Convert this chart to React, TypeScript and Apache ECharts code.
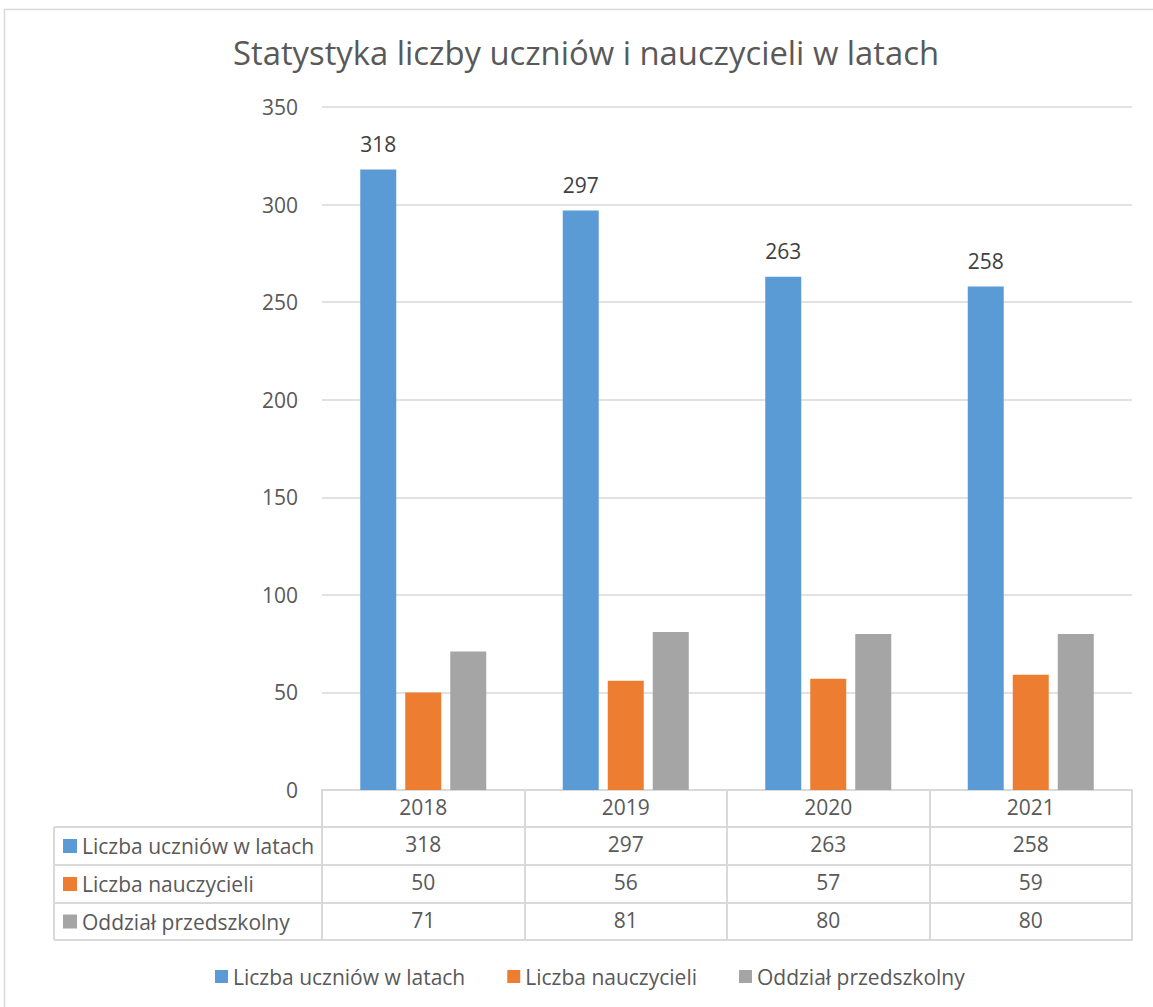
import React, { useEffect, useRef } from "react";
import * as echarts from "echarts";

const years = ["2018", "2019", "2020", "2021"];
const seriesNames = ["Liczba uczniów w latach", "Liczba nauczycieli", "Oddział przedszkolny"];
const uczniowie = [318, 297, 263, 258];
const nauczyciele = [50, 56, 57, 59];
const przedszkole = [71, 81, 80, 80];
const colors = ["#5B9BD5", "#ED7D31", "#A5A5A5"];
const titleText = "Statystyka liczby uczniów i nauczycieli w latach";

const FONT = "'Open Sans', sans-serif";
const TEXT = "#595959";
const LINE = "#d9d9d9";

const GRID_LEFT = 322;
const GRID_RIGHT = 21;
const GRID_TOP = 107;
const AXIS_Y = 790;
const ROW_OFFSETS = [37, 75, 113, 150];
const TABLE_LEFT = 54;

export default function App() {
  const ref = useRef<HTMLDivElement>(null);
  useEffect(() => {
    const el = ref.current!;
    const chart = echarts.init(el, null, { renderer: "svg" });
    const W = 1153;
    const H = 1007;
    const rows = [uczniowie, nauczyciele, przedszkole];

    const baseAxis = {
      type: "category" as const,
      data: years,
      position: "bottom" as const,
      boundaryGap: true,
      axisLine: { show: true, lineStyle: { color: LINE, width: 2 } },
      axisTick: { show: true, length: 37, lineStyle: { color: LINE, width: 2 } },
      axisLabel: { fontSize: 21, color: TEXT, fontFamily: FONT, margin: 6.5 },
      splitLine: { show: false },
    };

    const xAxes: any[] = [
      { ...baseAxis },
      ...rows.map((vals, r) => ({
        ...baseAxis,
        offset: ROW_OFFSETS[r],
        axisTick: { ...baseAxis.axisTick, length: ROW_OFFSETS[r + 1] - ROW_OFFSETS[r] },
        axisLabel: { ...baseAxis.axisLabel, formatter: (_v: string, i: number) => String(vals[i]) },
      })),
      {
        ...baseAxis,
        offset: ROW_OFFSETS[3],
        axisTick: { show: false },
        axisLabel: { show: false },
      },
    ];

    const graphics: any[] = [
      {
        type: "rect",
        shape: { x: 4.5, y: 9.5, width: W + 20, height: H + 20 },
        style: { fill: "none", stroke: LINE, lineWidth: 1.5 },
        silent: true,
      },
    ];
    const lineYs = [AXIS_Y + ROW_OFFSETS[0], AXIS_Y + ROW_OFFSETS[1], AXIS_Y + ROW_OFFSETS[2], AXIS_Y + ROW_OFFSETS[3]];
    lineYs.forEach((y) => {
      graphics.push({
        type: "line",
        shape: { x1: TABLE_LEFT, y1: y, x2: GRID_LEFT, y2: y },
        style: { stroke: LINE, lineWidth: 2 },
        silent: true,
      });
    });
    graphics.push({
      type: "line",
      shape: { x1: TABLE_LEFT, y1: lineYs[0], x2: TABLE_LEFT, y2: lineYs[3] },
      style: { stroke: LINE, lineWidth: 2 },
      silent: true,
    });
    seriesNames.forEach((name, r) => {
      const cy = (lineYs[r] + lineYs[r + 1]) / 2;
      graphics.push({
        type: "rect",
        shape: { x: 63, y: cy - 7, width: 14, height: 14 },
        style: { fill: colors[r] },
        silent: true,
      });
      graphics.push({
        type: "text",
        x: 82,
        y: cy,
        style: {
          text: name,
          fontSize: 21,
          fontFamily: FONT,
          fill: TEXT,
          verticalAlign: "middle",
          align: "left",
        },
        silent: true,
      });
    });

    const seriesData = [uczniowie, nauczyciele, przedszkole];
    chart.setOption({
      animation: false,
      backgroundColor: "#ffffff",
      title: {
        text: titleText,
        left: 228,
        top: 31,
        textStyle: { fontSize: 32.8, fontWeight: "normal", color: TEXT, fontFamily: FONT },
      },
      legend: {
        bottom: 15,
        left: 210,
        itemWidth: 13,
        itemHeight: 13,
        itemGap: 42,
        icon: "rect",
        textStyle: { fontSize: 21, color: TEXT, fontFamily: FONT },
        data: seriesNames,
      },
      grid: {
        left: GRID_LEFT,
        right: GRID_RIGHT,
        top: GRID_TOP,
        bottom: H - AXIS_Y,
        containLabel: false,
      },
      xAxis: xAxes,
      yAxis: {
        type: "value",
        min: 0,
        max: 350,
        interval: 50,
        axisLine: { show: false },
        axisTick: { show: false },
        axisLabel: { fontSize: 21, color: TEXT, fontFamily: FONT, margin: 24 },
        splitLine: { lineStyle: { color: LINE, width: 1.5 } },
      },
      series: seriesNames.map((name, r) => ({
        name,
        type: "bar",
        xAxisIndex: 0,
        data: seriesData[r],
        barWidth: 36,
        barGap: "25%",
        itemStyle: { color: colors[r] },
        label:
          r === 0
            ? { show: true, position: "top", distance: 15, fontSize: 21, color: "#404040", fontFamily: FONT }
            : { show: false },
      })),
      graphic: graphics,
    });
    return () => chart.dispose();
  }, []);
  return (
    <div
      ref={ref}
      style={{ position: "fixed", left: 0, top: 0, width: 1153, height: 1007, background: "#fff" }}
    />
  );
}
